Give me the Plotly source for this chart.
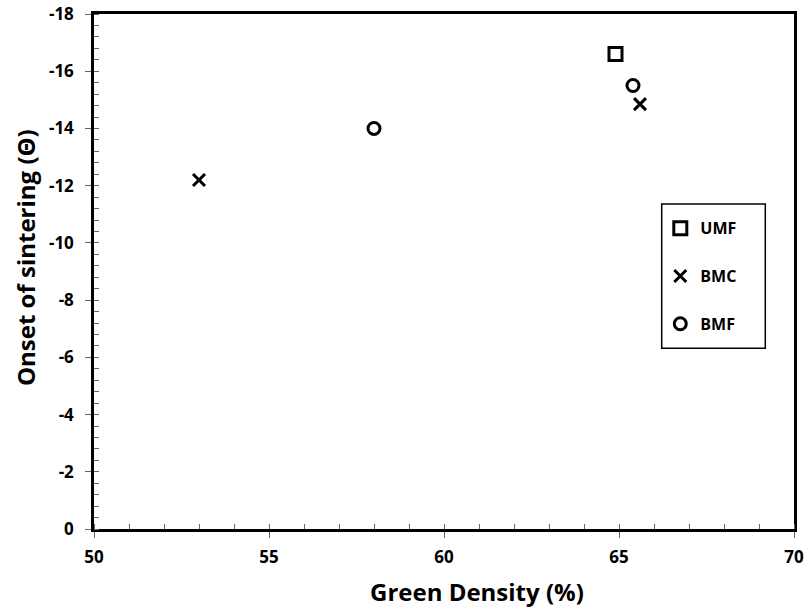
import plotly.graph_objects as go

# Green density (%) and onset of sintering for each powder
umf_density = [64.9]
umf_onset = [-16.6]

bmc_density = [53.0, 65.6]
bmc_onset = [-12.2, -14.85]

bmf_density = [58.0, 65.4]
bmf_onset = [-14.0, -15.5]

x_ticks = [50, 55, 60, 65, 70]
y_ticks = [0, -2, -4, -6, -8, -10, -12, -14, -16, -18]

FONT = "Open Sans"

fig = go.Figure()

fig.add_trace(go.Scatter(
    x=umf_density, y=umf_onset, mode="markers", name="UMF", legendgroup="a",
    marker=dict(symbol="square-open", size=13, color="black", line=dict(width=3, color="black")),
))
fig.add_trace(go.Scatter(
    x=bmc_density, y=bmc_onset, mode="markers", name="BMC", legendgroup="b",
    marker=dict(symbol="x-thin-open", size=12, color="black", line=dict(width=3, color="black")),
))
fig.add_trace(go.Scatter(
    x=bmf_density, y=bmf_onset, mode="markers", name="BMF", legendgroup="c",
    marker=dict(symbol="circle-open", size=12, color="black", line=dict(width=3, color="black")),
))

axis_common = dict(
    showgrid=False, zeroline=False, showline=True, linecolor="black", linewidth=2.5,
    mirror=True, ticks="outside", ticklen=6, tickwidth=1, tickcolor="#666",
    automargin=False,
    tickfont=dict(family=FONT, size=17, color="black", weight="bold"),
)

fig.update_xaxes(
    range=[50, 70], tickvals=x_ticks, ticktext=[str(v) for v in x_ticks],
    ticklabelstandoff=5,
    minor=dict(dtick=1, ticks="inside", ticklen=5, tickcolor="#666", tickwidth=1),
    **axis_common,
)
fig.update_yaxes(
    range=[0, -18], tickvals=y_ticks, ticktext=[str(v) for v in y_ticks],
    ticklabelstandoff=8,
    minor=dict(dtick=0.4, ticks="inside", ticklen=5, tickcolor="#666", tickwidth=1),
    **axis_common,
)

title_font = dict(family=FONT, size=24, color="black", weight="bold")

# axis titles
fig.add_annotation(
    text="Green Density (%)", xref="paper", yref="paper", x=0.547, y=-0.122,
    xanchor="center", yanchor="middle", showarrow=False, font=title_font,
)
fig.add_annotation(
    text="Onset of sintering (Θ)", xref="paper", yref="paper", x=-0.0986, y=0.528,
    xanchor="center", yanchor="middle", textangle=-90, showarrow=False, font=title_font,
)

# legend frame
fig.add_shape(
    type="rect", xref="paper", yref="paper",
    x0=0.811, x1=0.959, y0=0.351, y1=0.631,
    line=dict(color="black", width=1.5), fillcolor="white", layer="below",
)

fig.update_layout(
    width=806, height=608,
    margin=dict(l=94, r=12, t=14, b=79),
    plot_bgcolor="white", paper_bgcolor="white",
    legend=dict(
        x=0.809, y=0.617, xanchor="left", yanchor="top",
        borderwidth=0, bgcolor="rgba(0,0,0,0)",
        font=dict(family=FONT, size=16, color="black", weight="bold"),
        traceorder="grouped", tracegroupgap=24,
        itemwidth=30,
    ),
)

fig.write_html("out.html")
